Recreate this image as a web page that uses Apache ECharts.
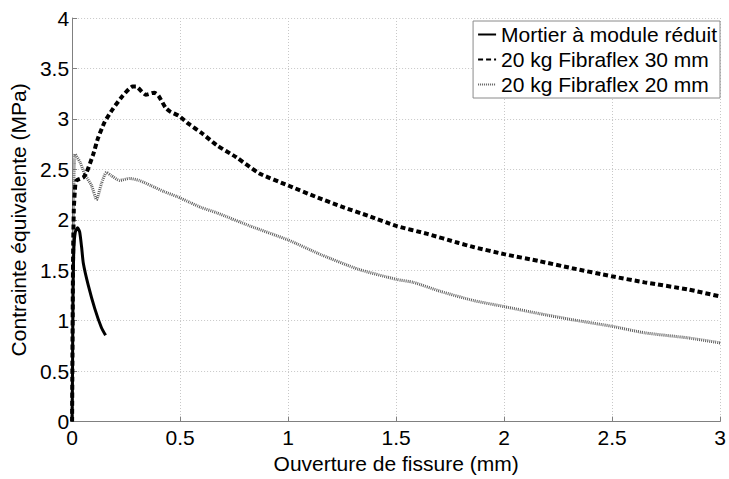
<!DOCTYPE html>
<html>
<head>
<meta charset="utf-8">
<script src="https://cdn.jsdelivr.net/npm/echarts@6/dist/echarts.min.js"></script>
<style>
  html, body { margin: 0; padding: 0; background: #fff; }
  #chart { width: 729px; height: 479px; }
</style>
</head>
<body>
<div id="chart"></div>
<script>
// Crack opening (mm) vs equivalent stress (MPa) for three mixes
const seriesNames = ['Mortier à module réduit', '20 kg Fibraflex 30 mm', '20 kg Fibraflex 20 mm'];

const mortierX = [0, 0.002, 0.004, 0.008, 0.015, 0.026, 0.035, 0.044, 0.052, 0.075, 0.105, 0.136, 0.155];
const mortierY = [0, 0.5, 1.2, 1.7, 1.88, 1.92, 1.88, 1.73, 1.57, 1.35, 1.12, 0.93, 0.855];

const fibre30X = [0, 0.004, 0.008, 0.015, 0.021, 0.052, 0.067, 0.098, 0.12, 0.151, 0.189, 0.235, 0.28, 0.296, 0.341, 0.38, 0.40, 0.433, 0.456, 0.494, 0.54, 0.60, 0.669, 0.76, 0.867, 1.0, 1.126, 1.248, 1.37, 1.5, 1.645, 1.79, 1.858, 2.0, 2.163, 2.315, 2.498, 2.65, 2.85, 3.0];
const fibre30Y = [0, 1.5, 2.1, 2.35, 2.39, 2.42, 2.47, 2.65, 2.81, 2.97, 3.10, 3.23, 3.32, 3.32, 3.24, 3.26, 3.23, 3.11, 3.07, 3.03, 2.95, 2.86, 2.74, 2.62, 2.46, 2.34, 2.23, 2.13, 2.04, 1.94, 1.86, 1.77, 1.73, 1.66, 1.59, 1.52, 1.44, 1.38, 1.31, 1.24];

const fibre20X = [0, 0.004, 0.008, 0.014, 0.037, 0.059, 0.09, 0.113, 0.136, 0.159, 0.18, 0.22, 0.265, 0.311, 0.364, 0.425, 0.486, 0.547, 0.60, 0.669, 0.822, 1.0, 1.157, 1.325, 1.5, 1.58, 1.706, 1.858, 2.0, 2.163, 2.315, 2.498, 2.65, 2.85, 3.0];
const fibre20Y = [0, 1.4, 2.3, 2.65, 2.57, 2.45, 2.34, 2.20, 2.36, 2.47, 2.44, 2.39, 2.41, 2.39, 2.34, 2.28, 2.23, 2.17, 2.12, 2.07, 1.94, 1.80, 1.65, 1.51, 1.41, 1.38, 1.29, 1.20, 1.14, 1.07, 1.01, 0.945, 0.88, 0.83, 0.78];

const xTicks = [0, 0.5, 1, 1.5, 2, 2.5, 3];
const yTicks = [0, 0.5, 1, 1.5, 2, 2.5, 3, 3.5, 4];

function pairs(xs, ys) {
  return xs.map((x, i) => [x, ys[i]]);
}

const FONT = '"Liberation Sans", Arial, sans-serif';
const AXIS_GREY = '#808080';
const gridLine = { show: true, lineStyle: { color: '#c8c8c8', type: [1, 2], width: 1 } };

const chart = echarts.init(document.getElementById('chart'), null, { renderer: 'svg' });

chart.setOption({
  backgroundColor: '#ffffff',
  animation: false,
  textStyle: { fontFamily: FONT },
  grid: { left: 67, top: 18, right: 6, bottom: 46, containLabel: false },
  legend: {
    data: seriesNames,
    orient: 'vertical',
    right: 9,
    top: 21,
    backgroundColor: '#ffffff',
    borderColor: '#8a8a8a',
    borderWidth: 1,
    borderRadius: 0,
    padding: [3, 3, 3, 4],
    itemWidth: 18,
    itemHeight: 10,
    itemGap: 4,
    // line sample only, no marker in the middle
    itemStyle: { opacity: 0 },
    textStyle: { fontFamily: FONT, fontSize: 21, color: '#000', lineHeight: 21 }
  },
  xAxis: {
    type: 'value',
    min: xTicks[0],
    max: xTicks[xTicks.length - 1],
    interval: 0.5,
    name: 'Ouverture de fissure (mm)',
    nameLocation: 'middle',
    nameGap: 20,
    nameTextStyle: { fontFamily: FONT, fontSize: 21, color: '#000' },
    axisLine: { show: true, onZero: false, lineStyle: { color: AXIS_GREY, width: 1 } },
    axisTick: { show: true, inside: true, length: 5, lineStyle: { color: AXIS_GREY } },
    axisLabel: {
      fontFamily: FONT, fontSize: 21, color: '#000', margin: 9, lineHeight: 14,
      formatter: v => String(v)
    },
    splitLine: gridLine
  },
  yAxis: {
    type: 'value',
    min: yTicks[0],
    max: yTicks[yTicks.length - 1],
    interval: 0.5,
    name: 'Contrainte équivalente (MPa)',
    nameLocation: 'middle',
    nameGap: 36,
    nameTextStyle: { fontFamily: FONT, fontSize: 21, color: '#000' },
    axisLine: { show: true, onZero: false, lineStyle: { color: AXIS_GREY, width: 1 } },
    axisTick: { show: true, inside: true, length: 5, lineStyle: { color: AXIS_GREY } },
    axisLabel: {
      fontFamily: FONT, fontSize: 21, color: '#000', margin: 3, lineHeight: 14,
      formatter: v => String(v)
    },
    splitLine: gridLine
  },
  series: [
    {
      name: seriesNames[0],
      type: 'line',
      data: pairs(mortierX, mortierY),
      showSymbol: false,
      symbol: 'none',
      smooth: 0.2,
      z: 4,
      lineStyle: { color: '#000', width: 3, type: 'solid' },
      itemStyle: { color: '#000' }
    },
    {
      name: seriesNames[1],
      type: 'line',
      data: pairs(fibre30X, fibre30Y),
      showSymbol: false,
      symbol: 'none',
      smooth: 0.2,
      z: 3,
      lineStyle: { color: '#000', width: 4, type: [5, 3], cap: 'butt' },
      itemStyle: { color: '#000' }
    },
    {
      name: seriesNames[2],
      type: 'line',
      data: pairs(fibre20X, fibre20Y),
      showSymbol: false,
      symbol: 'none',
      smooth: 0.2,
      z: 2,
      lineStyle: { color: '#606060', width: 3, type: [1, 1], cap: 'butt' },
      itemStyle: { color: '#606060' }
    }
  ]
});
</script>
</body>
</html>
